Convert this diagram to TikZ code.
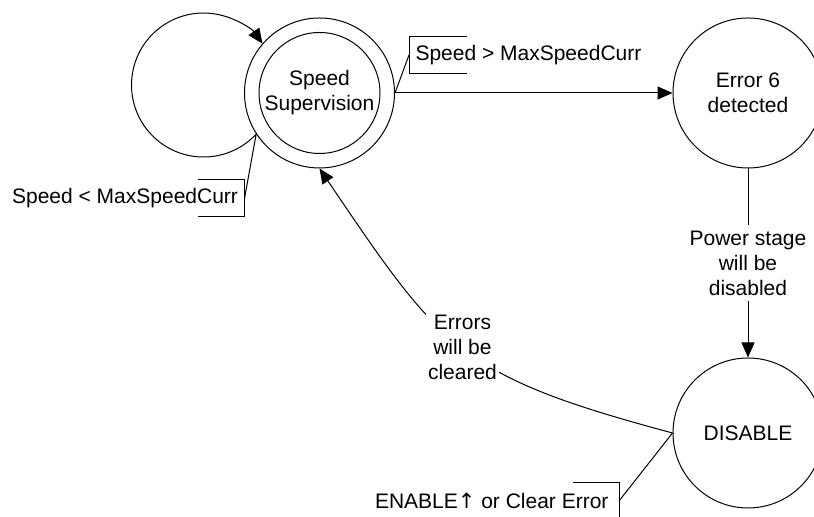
\documentclass[tikz,border=0pt]{standalone}
\usepackage{fontspec}
\setmainfont{Liberation Sans}
\newfontfamily\arrowfont{DejaVu Sans}
\usetikzlibrary{arrows.meta, positioning}

\tikzset{
  state/.style={draw, circle, minimum size=75pt, inner sep=0pt, align=center},
  cond/.style={inner xsep=3pt, minimum height=18pt},
  trans/.style={-{Triangle[length=7.5pt, width=6.5pt]}},
}

\begin{document}
\begin{tikzpicture}[x=25pt, y=25pt, line width=0.5pt, font=\fontsize{10.5}{12.5}\selectfont]
            \useasboundingbox (0, 0) rectangle (16.28, 10.34);
            % states
            \node[state] (sup) at (6.39, 8.48) {};
            \node[state, minimum size=60.5pt] (supin) at (sup) {Speed\\Supervision};
            \node[state] (err) at (14.96, 8.48) {Error 6\\detected};
            \node[state] (dis) at (14.96, 1.68) {DISABLE};
            % conditions
            \node[cond, anchor=west] (fast) at (8.18, 9.24) {Speed > MaxSpeedCurr};
            \node[cond, anchor=east] (slow) at (4.89, 6.37) {Speed < MaxSpeedCurr};
            \node[cond, anchor=east, inner xsep=5pt] (en) at (12.38, 0.32) {ENABLE{\arrowfont ↑} or Clear Error};
            \draw ([xshift=29pt]fast.north west) -- (fast.north west) -- (fast.south west) -- ++(29pt, 0);
            \draw ([xshift=-23.5pt]slow.north east) -- (slow.north east) -- (slow.south east) -- ++(-23.5pt, 0);
            \draw ([xshift=-23pt]en.north east) -- (en.north east) -- (en.south east) -- ++(-23pt, 0);
            \draw (sup.east) -- (fast.west);
            \draw (sup.213) -- (slow.east);
            \draw (dis.west) -- (en.east);
            % transitions
            \draw[trans] (sup.213) arc[start angle=-43, end angle=-325, radius=1.44];
            \draw[trans] (sup) -- (err);
            \draw[trans] (err) -- node[fill=white, align=center, inner sep=3pt] {Power stage\\will be\\disabled} (dis);
            \draw[trans] (dis.west) .. controls +(-4.25, 1.14) and +(2.46, -3.64) .. (sup.south)
                node[pos=0.5, fill=white, align=center, inner sep=1pt] {Errors\\will be\\cleared};
        \end{tikzpicture}
\end{document}
